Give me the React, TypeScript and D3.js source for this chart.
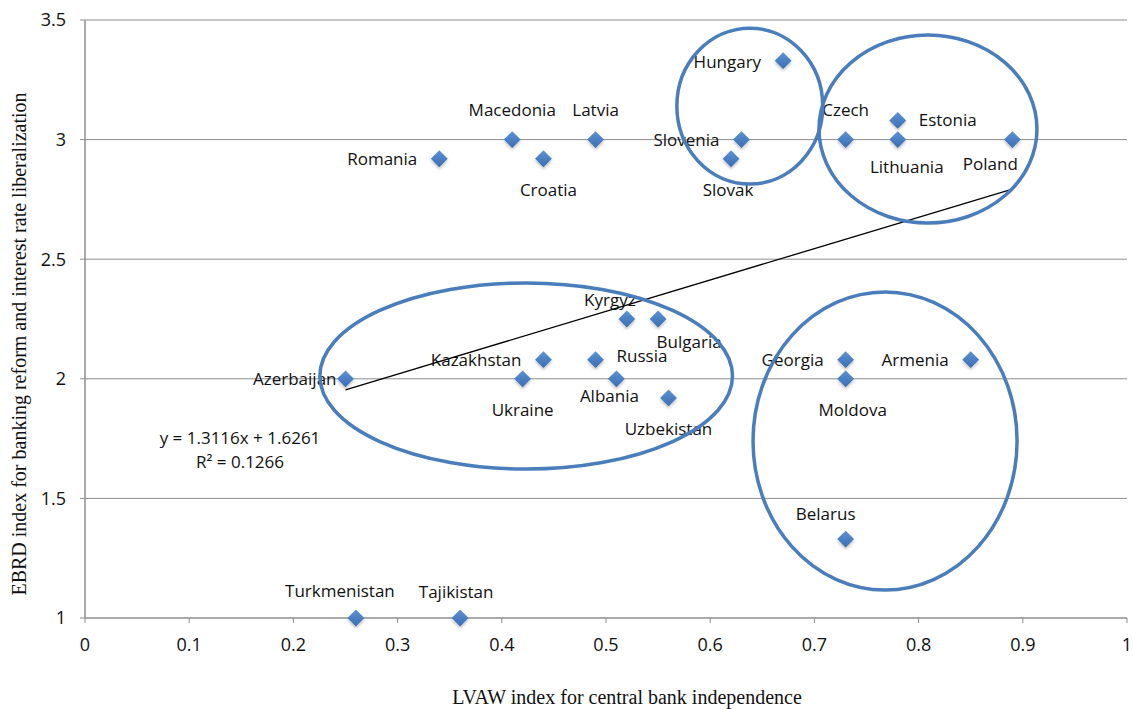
import * as d3 from 'd3'

// LVAW (x) vs EBRD banking reform index (y)
const countries = [
  'Turkmenistan', 'Tajikistan', 'Romania', 'Macedonia', 'Croatia', 'Latvia',
  'Hungary', 'Slovenia', 'Slovak', 'Czech', 'Estonia', 'Lithuania', 'Poland',
  'Kyrgyz', 'Bulgaria', 'Kazakhstan', 'Russia', 'Azerbaijan', 'Ukraine',
  'Albania', 'Uzbekistan', 'Georgia', 'Armenia', 'Moldova', 'Belarus',
]
const lvaw = [
  0.26, 0.36, 0.34, 0.41, 0.44, 0.49,
  0.67, 0.63, 0.62, 0.73, 0.78, 0.78, 0.89,
  0.52, 0.55, 0.44, 0.49, 0.25, 0.42,
  0.51, 0.56, 0.73, 0.85, 0.73, 0.73,
]
const ebrd = [
  1, 1, 2.92, 3, 2.92, 3,
  3.33, 3, 2.92, 3, 3.08, 3, 3,
  2.25, 2.25, 2.08, 2.08, 2, 2,
  2, 1.92, 2.08, 2.08, 2, 1.33,
]

const xTicks = [0, 0.1, 0.2, 0.3, 0.4, 0.5, 0.6, 0.7, 0.8, 0.9, 1]
const yTicks = [1, 1.5, 2, 2.5, 3, 3.5]

const trendSlope = 1.3116
const trendIntercept = 1.6261
const trendRange = [0.25, 0.89]
const trendText = ['y = 1.3116x + 1.6261', 'R² = 0.1266']

// group ellipses: [cx, cy, rx, ry] in data units
const groups = [
  [0.638, 3.14, 0.07, 0.326],
  [0.809, 3.044, 0.1046, 0.393],
  [0.4234, 2.0117, 0.198, 0.389],
  [0.7678, 1.74, 0.1267, 0.623],
]

// label placement (px offsets from the marker)
type Place = { dx: number; dy: number; anchor: 'start' | 'middle' | 'end' }
const place: Record<string, Place> = {
  Turkmenistan: { dx: -16, dy: -27, anchor: 'middle' },
  Tajikistan:   { dx: -4,  dy: -26, anchor: 'middle' },
  Romania:      { dx: -22, dy: 0,   anchor: 'end' },
  Macedonia:    { dx: 0,   dy: -30, anchor: 'middle' },
  Croatia:      { dx: 5,   dy: 31,  anchor: 'middle' },
  Latvia:       { dx: 0,   dy: -30, anchor: 'middle' },
  Hungary:      { dx: -22, dy: 1,   anchor: 'end' },
  Slovenia:     { dx: -22, dy: 0,   anchor: 'end' },
  Slovak:       { dx: -3,  dy: 31,  anchor: 'middle' },
  Czech:        { dx: 0,   dy: -30, anchor: 'middle' },
  Estonia:      { dx: 21,  dy: 0,   anchor: 'start' },
  Lithuania:    { dx: 9,   dy: 27,  anchor: 'middle' },
  Poland:       { dx: -22, dy: 24,  anchor: 'middle' },
  Kyrgyz:       { dx: -17, dy: -19, anchor: 'middle' },
  Bulgaria:     { dx: 31,  dy: 23,  anchor: 'middle' },
  Kazakhstan:   { dx: -22, dy: 0,   anchor: 'end' },
  Russia:       { dx: 21,  dy: -4,  anchor: 'start' },
  Azerbaijan:   { dx: -9,  dy: 0,   anchor: 'end' },
  Ukraine:      { dx: 0,   dy: 31,  anchor: 'middle' },
  Albania:      { dx: -7,  dy: 17,  anchor: 'middle' },
  Uzbekistan:   { dx: 0,   dy: 31,  anchor: 'middle' },
  Georgia:      { dx: -22, dy: 0,   anchor: 'end' },
  Armenia:      { dx: -22, dy: 0,   anchor: 'end' },
  Moldova:      { dx: 7,   dy: 31,  anchor: 'middle' },
  Belarus:      { dx: -20, dy: -25, anchor: 'middle' },
}

const W = 1133
const H = 709
const margin = { top: 20, right: 6, bottom: 91, left: 85 }
const iW = W - margin.left - margin.right
const iH = H - margin.top - margin.bottom

const sans = '"Open Sans", "Noto Sans", sans-serif'
const serif = '"Liberation Serif", "Times New Roman", serif'
const labelSize = 17
const tickSize = 18

export default function App() {
  const x = d3.scaleLinear().domain([0, 1]).range([0, iW])
  const y = d3.scaleLinear().domain([1, 3.5]).range([iH, 0])

  const pts = countries.map((name, i) => ({ name, x: lvaw[i], y: ebrd[i] }))
  const diamond = d3.symbol().type(d3.symbolDiamond2).size(180)()
  const trend = d3.line<number>()
    .x(d => x(d))
    .y(d => y(trendSlope * d + trendIntercept))(trendRange)

  return (
    <svg width={W} height={H} style={{ position: 'absolute', left: 0, top: 0, background: '#fff' }}>
      <defs>
        <linearGradient id="dia" x1="0" y1="0" x2="0" y2="1">
          <stop offset="0%" stopColor="#5d93d6" />
          <stop offset="100%" stopColor="#3a6db0" />
        </linearGradient>
        <filter id="shadow" x="-50%" y="-50%" width="200%" height="200%">
          <feDropShadow dx="0" dy="2" stdDeviation="1.5" floodColor="#000" floodOpacity="0.25" />
        </filter>
      </defs>
      <g transform={`translate(${margin.left},${margin.top})`}>
        {/* grid */}
        {yTicks.filter(t => t > 1).map(t => (
          <line key={t} x1={0} x2={iW} y1={y(t)} y2={y(t)} stroke="#8e8e8e" strokeWidth={1} />
        ))}
        {/* axes */}
        <line x1={0} x2={iW} y1={iH} y2={iH} stroke="#8e8e8e" strokeWidth={1.5} />
        <line x1={0} x2={0} y1={0} y2={iH} stroke="#8e8e8e" strokeWidth={1.5} />
        {xTicks.map(t => (
          <g key={t} transform={`translate(${x(t)},${iH})`}>
            <line y1={0} y2={5} stroke="#8e8e8e" strokeWidth={1} />
            <text y={27} dy="0.35em" textAnchor="middle" fontFamily={sans} fontSize={tickSize} fill="#111">{t}</text>
          </g>
        ))}
        {yTicks.map(t => (
          <g key={t} transform={`translate(0,${y(t)})`}>
            <line x1={-5} x2={0} stroke="#8e8e8e" strokeWidth={1} />
            <text x={-19} dy="0.35em" textAnchor="end" fontFamily={sans} fontSize={tickSize} fill="#111">{t}</text>
          </g>
        ))}

        {/* data labels */}
        {pts.map(p => {
          const pl = place[p.name]
          return (
            <text key={p.name} x={x(p.x) + pl.dx} y={y(p.y) + pl.dy} dy="0.35em"
              textAnchor={pl.anchor} fontFamily={sans} fontSize={labelSize} fill="#111">{p.name}</text>
          )
        })}

        {/* markers */}
        {pts.map(p => (
          <path key={p.name} d={diamond} transform={`translate(${x(p.x)},${y(p.y)})`}
            fill="url(#dia)" filter="url(#shadow)" />
        ))}

        {/* trendline */}
        <path d={trend ?? ''} fill="none" stroke="#000" strokeWidth={1.3} />
        {trendText.map((t, i) => (
          <text key={t} x={155} y={418 + i * 24} dy="0.35em" textAnchor="middle"
            fontFamily={sans} fontSize={labelSize} fill="#111">{t}</text>
        ))}

        {/* group ellipses */}
        {groups.map((g, i) => (
          <ellipse key={i} cx={x(g[0])} cy={y(g[1])}
            rx={x(g[2]) - x(0)} ry={y(0) - y(g[3])}
            fill="none" stroke="#4a7dbb" strokeWidth={3.5} />
        ))}
      </g>

      {/* axis titles */}
      <text x={627} y={704} textAnchor="middle" fontFamily={serif} fontSize={20} fill="#111">
        LVAW index for central bank independence
      </text>
      <text transform={`translate(26,344) rotate(-90)`} textAnchor="middle"
        fontFamily={serif} fontSize={20} fill="#111">
        EBRD index for banking reform and interest rate liberalization
      </text>
    </svg>
  )
}
